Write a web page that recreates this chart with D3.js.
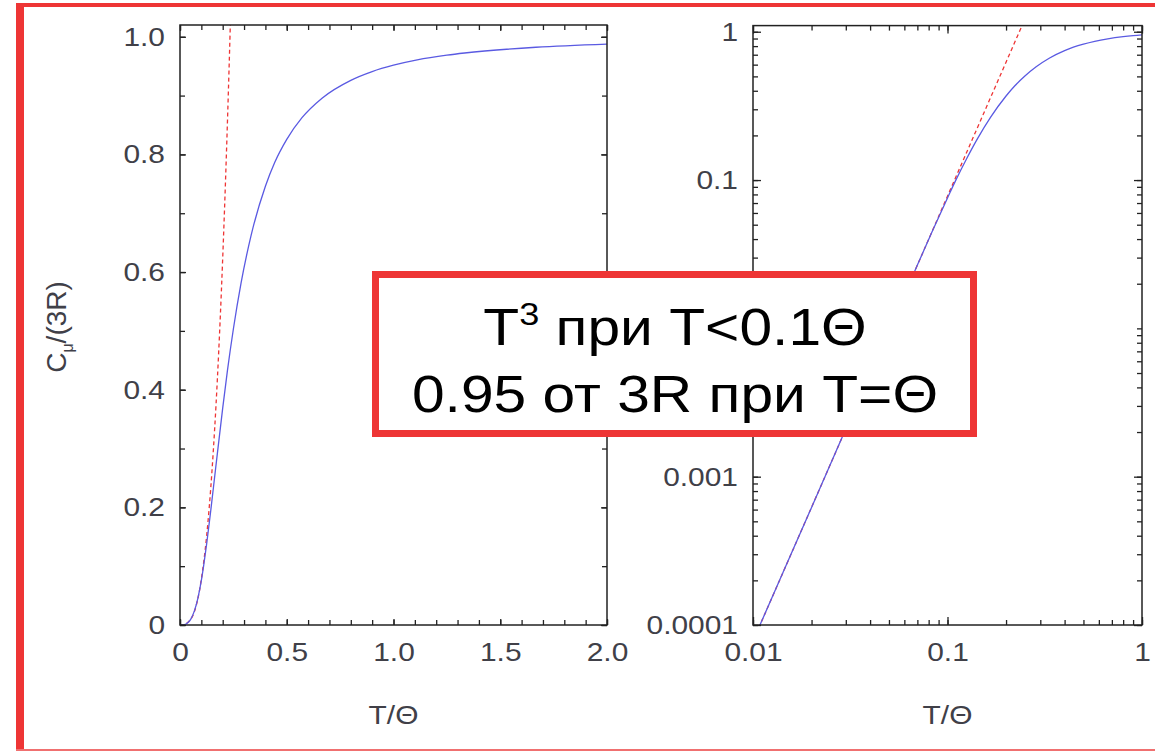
<!DOCTYPE html>
<html>
<head>
<meta charset="utf-8">
<script src="https://cdn.jsdelivr.net/npm/d3@7"></script>
<style>
  body { margin: 0; background: #fff; }
  svg { display: block; font-family: "Liberation Sans", Arial, sans-serif; }
</style>
</head>
<body>
<svg id="chart" width="1155" height="751"></svg>
<script>
// heat capacity curve, T/Θ and C/(3R)
const debyeT = [0, 0.01, 0.011, 0.02, 0.03, 0.04, 0.05, 0.0667, 0.0833, 0.1, 0.111, 0.125, 0.1429, 0.1667, 0.2, 0.222, 0.25, 0.2857, 0.3333, 0.4, 0.444, 0.5, 0.5714, 0.6667, 0.8, 0.9, 1.0, 1.111, 1.25, 1.333, 1.667, 2.0]
const debyeC = [0, 0.000078, 0.000104, 0.00062, 0.0021, 0.0050, 0.0097, 0.0231, 0.0448, 0.0758, 0.1015, 0.1382, 0.1909, 0.2656, 0.3687, 0.4320, 0.5032, 0.5807, 0.6628, 0.7459, 0.7866, 0.8256, 0.8624, 0.8960, 0.9260, 0.9409, 0.9517, 0.9607, 0.9687, 0.9724, 0.9822, 0.9876]

// T^3 low temperature law (red dashed)
const cubeT = [0, 0.01, 0.05, 0.1, 0.125, 0.15, 0.175, 0.2, 0.215, 0.23, 0.24, 0.25]
const cubeC = [0, 0.000078, 0.0097, 0.0779, 0.1522, 0.2630, 0.4177, 0.6234, 0.7745, 0.9482, 1.0773, 1.2177]

// tick labels (0.01 on the log y axis sits under the note box, so no label)
const linXTicks = [0, 0.5, 1.0, 1.5, 2.0]
const linXLabels = ['0', '0.5', '1.0', '1.5', '2.0']
const linYTicks = [0, 0.2, 0.4, 0.6, 0.8, 1.0]
const linYLabels = ['0', '0.2', '0.4', '0.6', '0.8', '1.0']
const logXTicks = [0.01, 0.1, 1]
const logXLabels = ['0.01', '0.1', '1']
const logYTicks = [0.0001, 0.001, 0.1, 1]
const logYLabels = ['0.0001', '0.001', '0.1', '1']

const svg = d3.select('#chart')
const red = '#ee3535'
const blue = '#5a5ae2'
const axisColor = '#222'
const labelColor = '#404048'
const stretchX = 1.15

const curve = debyeT.map((t, i) => ({ x: t, y: debyeC[i] }))
const cube = cubeT.map((t, i) => ({ x: t, y: cubeC[i] }))

// widen text horizontally like in the picture
const stretch = sel => sel.each(function () {
    const w = this.getComputedTextLength()
    d3.select(this).attr('textLength', w * stretchX).attr('lengthAdjust', 'spacingAndGlyphs')
})

const styleAxis = (g, fontSize) => {
    g.select('.domain').remove()
    g.selectAll('line').attr('stroke', axisColor).attr('stroke-width', 1.3)
    g.selectAll('text').attr('font-size', fontSize).attr('fill', labelColor)
        .attr('font-family', '"Liberation Sans", Arial, sans-serif')
    stretch(g.selectAll('text'))
}

function panel (id, x, y, xMajor, xLabels, yMajor, yLabels, xMinor, yMinor, majorLen, minorLen) {
    const [x0, x1] = x.range()
    const [y0, y1] = y.range()
    const g = svg.append('g').attr('class', id)

    g.append('clipPath').attr('id', 'clip-' + id)
        .append('rect').attr('x', x0).attr('y', y1).attr('width', x1 - x0).attr('height', y0 - y1)

    const plot = g.append('g').attr('clip-path', `url(#clip-${id})`)
    const line = d3.line().x(d => x(d.x)).y(d => y(d.y)).curve(d3.curveMonotoneX)

    plot.append('path').datum(cube.filter(d => d.y > 0 || id === 'lin'))
        .attr('d', line).attr('fill', 'none').attr('stroke', red)
        .attr('stroke-width', 1.3).attr('stroke-dasharray', '4,3')
    plot.append('path').datum(curve.filter(d => d.y > 0 || id === 'lin'))
        .attr('d', line).attr('fill', 'none').attr('stroke', blue)
        .attr('stroke-width', 1.3)

    // ticks on all four sides, pointing inwards
    const sides = [
        [d3.axisBottom(x), y0, 0, xMinor, xMajor],
        [d3.axisTop(x), y1, 0, xMinor, xMajor],
        [d3.axisLeft(y), 0, x0, yMinor, yMajor],
        [d3.axisRight(y), 0, x1, yMinor, yMajor]
    ]
    sides.forEach(([ax, ty, tx, minor, major]) => {
        g.append('g').attr('transform', `translate(${tx},${ty})`)
            .call(ax.tickValues(minor).tickSize(-minorLen).tickSizeOuter(0).tickFormat(''))
            .call(s => styleAxis(s, 26))
        g.append('g').attr('transform', `translate(${tx},${ty})`)
            .call(ax.tickValues(major).tickSize(-majorLen).tickSizeOuter(0).tickFormat(''))
            .call(s => styleAxis(s, 26))
    })

    // labelled axes
    g.append('g').attr('transform', `translate(0,${y0})`)
        .call(d3.axisBottom(x).tickValues(xMajor).tickSize(0).tickPadding(18)
            .tickFormat((d, i) => xLabels[i]))
        .call(s => styleAxis(s, 26))
    g.append('g').attr('transform', `translate(${x0},0)`)
        .call(d3.axisLeft(y).tickValues(yMajor).tickSize(0).tickPadding(15)
            .tickFormat((d, i) => yLabels[i]))
        .call(s => styleAxis(s, 26))

    g.append('rect').attr('x', x0).attr('y', y1).attr('width', x1 - x0).attr('height', y0 - y1)
        .attr('fill', 'none').attr('stroke', axisColor).attr('stroke-width', 1.5)

    g.append('text').attr('x', (x0 + x1) / 2).attr('y', 724)
        .attr('text-anchor', 'middle').attr('font-size', 26).attr('fill', labelColor)
        .text('T/Θ').call(stretch)
    return g
}

// left: linear axes
const xLin = d3.scaleLinear().domain([0, 2]).range([180, 607])
const yLin = d3.scaleLinear().domain([0, 1.02]).range([625, 25])
panel('lin', xLin, yLin, linXTicks, linXLabels, linYTicks, linYLabels,
    d3.range(0, 2.001, 0.1), d3.range(0, 1.001, 0.1), 6, 5)

// right: log-log axes
const xLog = d3.scaleLog().domain([0.01, 1]).range([753, 1142])
const yLog = d3.scaleLog().domain([0.0001, 1.1]).range([625, 25.6])
panel('log', xLog, yLog, logXTicks, logXLabels, logYTicks, logYLabels,
    xLog.ticks(), yLog.ticks(), 8, 5)

// y axis title
const yTitle = svg.append('text').attr('transform', 'translate(66,327) rotate(-90)')
    .attr('text-anchor', 'middle').attr('font-size', 28).attr('fill', labelColor)
yTitle.append('tspan').text('C')
yTitle.append('tspan').attr('font-size', 16).attr('dy', 7).text('μ')
yTitle.append('tspan').attr('dy', -7).text('/(3R)')

// annotation box
svg.append('rect').attr('x', 375.5).attr('y', 274.5).attr('width', 598).attr('height', 159)
    .attr('fill', '#fff').attr('stroke', red).attr('stroke-width', 7)
const note = svg.append('g').attr('font-size', 52).attr('fill', '#000').attr('text-anchor', 'middle')
const l1 = note.append('text').attr('transform', 'translate(675,345) scale(1.13,1)')
l1.append('tspan').text('T')
l1.append('tspan').attr('font-size', 32).attr('dy', -20).text('3')
l1.append('tspan').attr('dy', 20).text(' при T<0.1Θ')
note.append('text').attr('transform', 'translate(675,412) scale(1.13,1)')
    .text('0.95 от 3R при T=Θ')

// outer slide frame
svg.append('rect').attr('x', 16).attr('y', 3).attr('width', 8).attr('height', 748).attr('fill', red)
svg.append('rect').attr('x', 16).attr('y', 3).attr('width', 1139).attr('height', 4).attr('fill', red)
svg.append('rect').attr('x', 16).attr('y', 749).attr('width', 1139).attr('height', 2).attr('fill', '#f07070')
</script>
</body>
</html>
